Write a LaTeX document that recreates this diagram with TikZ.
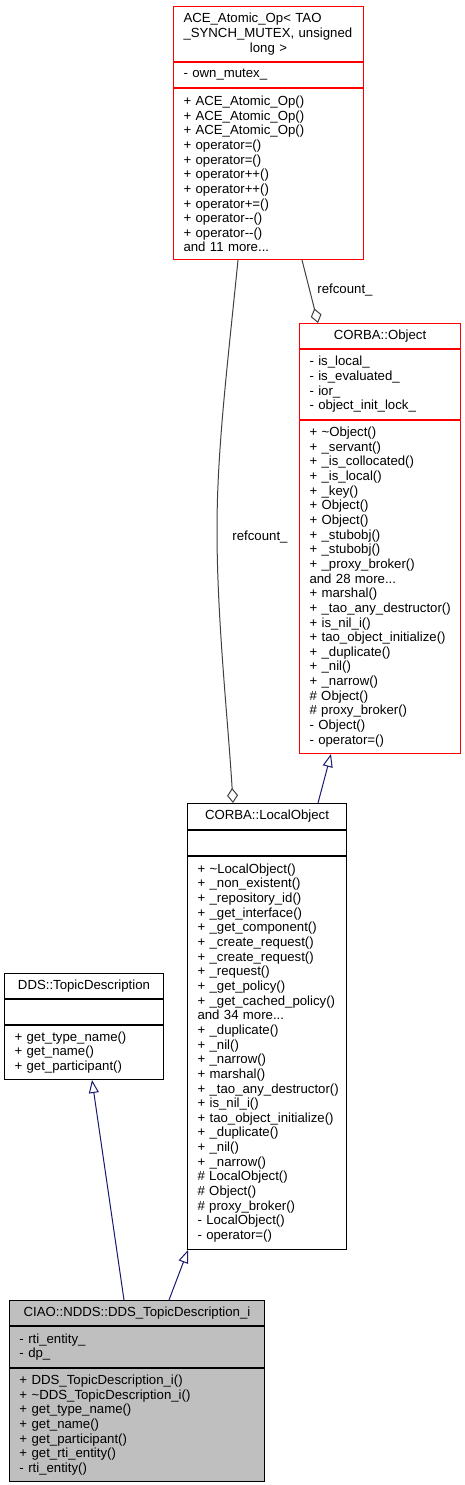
\documentclass[tikz,border=0pt]{standalone}
\usepackage{fontspec}
\setmainfont{Liberation Sans}
\usetikzlibrary{arrows.meta,calc}
\definecolor{navyedge}{HTML}{191970}
\definecolor{aggedge}{HTML}{404040}
\definecolor{classfill}{HTML}{BFBFBF}
\newcommand\tld{\textasciitilde}
\newcommand\mm{-\kern0pt-}
\begin{document}
\begin{tikzpicture}[x=1pt,y=-1pt,
  sect/.style={draw, line width=1pt, anchor=north west, inner xsep=10pt, inner ysep=1pt,
    align=left, font=\fontsize{13.2}{14.65}\selectfont},
  ttl/.style={sect, align=center},
  redsect/.style={sect, draw=red},
  redttl/.style={ttl, draw=red},
  lbl/.style={font=\fontsize{13.2}{14.65}\selectfont, inner sep=0pt},
  agg/.style={draw=aggedge, line width=1pt, -{Diamond[open,length=15pt,width=11pt]}},
  inh/.style={draw=navyedge, line width=1pt, -{Triangle[open,length=13pt,width=10pt]}}
]
\useasboundingbox (0,0) rectangle (465,1485);

% ACE_Atomic_Op
\node[redsect, text width=170pt, minimum width=190pt, minimum height=55pt] (ace-t) at (173,6)
  {ACE\_Atomic\_Op< TAO\\\_SYNCH\_MUTEX, unsigned\\\makebox[170pt][c]{long >}};
\node[redsect, text width=170pt, minimum width=190pt, minimum height=25pt] (ace-a) at (ace-t.south west)
  {-~own\_mutex\_};
\node[redsect, text width=170pt, minimum width=190pt, minimum height=171pt] (ace-m) at (ace-a.south west)
  {+~ACE\_Atomic\_Op()\\+~ACE\_Atomic\_Op()\\+~ACE\_Atomic\_Op()\\+~operator=()\\+~operator=()\\
   +~operator++()\\+~operator++()\\+~operator+=()\\+~operator\mm()\\+~operator\mm()\\and 11 more...};

% CORBA::Object
\node[redttl, text width=141pt, minimum width=161pt, minimum height=25pt] (obj-t) at (299,323)
  {CORBA::Object};
\node[redsect, text width=141pt, minimum width=161pt, minimum height=70pt] (obj-a) at (obj-t.south west)
  {-~is\_local\_\\-~is\_evaluated\_\\-~ior\_\\-~object\_init\_lock\_};
\node[redsect, text width=141pt, minimum width=161pt, minimum height=333pt] (obj-m) at (obj-a.south west)
  {+~\tld Object()\\+~\_servant()\\+~\_is\_collocated()\\+~\_is\_local()\\+~\_key()\\+~Object()\\+~Object()\\
   +~\_stubobj()\\+~\_stubobj()\\+~\_proxy\_broker()\\and 28 more...\\+~marshal()\\+~\_tao\_any\_destructor()\\
   +~is\_nil\_i()\\+~tao\_object\_initialize()\\+~\_duplicate()\\+~\_nil()\\+~\_narrow()\\\#~Object()\\
   \#~proxy\_broker()\\-~Object()\\-~operator=()};

% CORBA::LocalObject
\node[ttl, text width=139pt, minimum width=159pt, minimum height=26pt] (lo-t) at (187,803)
  {CORBA::LocalObject};
\node[sect, text width=139pt, minimum width=159pt, minimum height=25pt] (lo-e) at (lo-t.south west) {};
\node[sect, text width=139pt, minimum width=159pt, minimum height=393pt] (lo-m) at (lo-e.south west)
  {+~\tld LocalObject()\\+~\_non\_existent()\\+~\_repository\_id()\\+~\_get\_interface()\\+~\_get\_component()\\
   +~\_create\_request()\\+~\_create\_request()\\+~\_request()\\+~\_get\_policy()\\+~\_get\_cached\_policy()\\
   and 34 more...\\+~\_duplicate()\\+~\_nil()\\+~\_narrow()\\+~marshal()\\+~\_tao\_any\_destructor()\\
   +~is\_nil\_i()\\+~tao\_object\_initialize()\\+~\_duplicate()\\+~\_nil()\\+~\_narrow()\\\#~LocalObject()\\
   \#~Object()\\\#~proxy\_broker()\\-~LocalObject()\\-~operator=()};

% DDS::TopicDescription
\node[ttl, text width=139pt, minimum width=159pt, minimum height=25pt] (td-t) at (4,973)
  {DDS::TopicDescription};
\node[sect, text width=139pt, minimum width=159pt, minimum height=25pt] (td-e) at (td-t.south west) {};
\node[sect, text width=139pt, minimum width=159pt, minimum height=54pt] (td-m) at (td-e.south west)
  {+~get\_type\_name()\\+~get\_name()\\+~get\_participant()};

% CIAO::NDDS::DDS_TopicDescription_i
\node[ttl, fill=classfill, text width=235pt, minimum width=255pt, minimum height=25pt] (ciao-t) at (9,1300)
  {CIAO::NDDS::DDS\_TopicDescription\_i};
\node[sect, fill=classfill, text width=235pt, minimum width=255pt, minimum height=41pt] (ciao-a) at (ciao-t.south west)
  {-~rti\_entity\_\\-~dp\_};
\node[sect, fill=classfill, text width=235pt, minimum width=255pt, minimum height=113pt] (ciao-m) at (ciao-a.south west)
  {+~DDS\_TopicDescription\_i()\\+~\tld DDS\_TopicDescription\_i()\\+~get\_type\_name()\\+~get\_name()\\
   +~get\_participant()\\+~get\_rti\_entity()\\-~rti\_entity()};

% aggregation edges
\coordinate (aggmid) at (217,530);
\draw[agg] ($(ace-m.south west)+(65,0)$) .. controls (227,370) and (217,450) .. (aggmid)
  .. controls (217,620) and (228,720) .. ($(lo-t.north west)+(46,0)$);
\node[lbl] (rc1) at (260,537) {refcount\_};
\draw[agg] ($(ace-m.south west)+(129,0)$) -- ($(obj-t.north west)+(19,0)$);
\node[lbl] (rc2) at (345,290) {refcount\_};

% inheritance edges
\draw[inh] ($(lo-t.north west)+(131,0)$) -- ($(obj-m.south west)+(32,0)$);
\draw[inh] ($(ciao-t.north west)+(115,0)$) -- ($(td-m.south west)+(88,0)$);
\draw[inh] ($(ciao-t.north west)+(160,0)$) -- ($(lo-m.south west)+(1,0)$);
\end{tikzpicture}
\end{document}
